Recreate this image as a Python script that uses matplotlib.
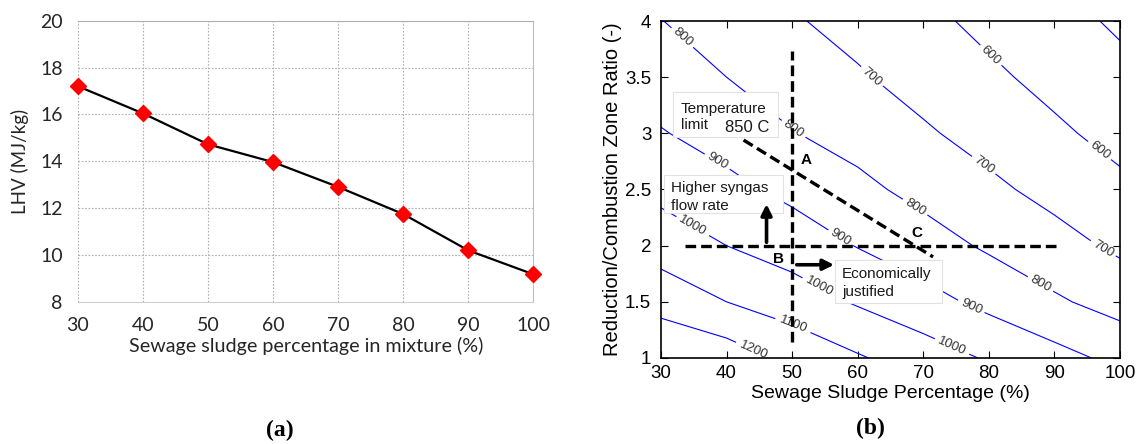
import matplotlib
matplotlib.use("Agg")
import matplotlib.pyplot as plt
from matplotlib.patches import Rectangle
import numpy as np

# (a) LHV of the fuel mixture
sludge_pct = [30, 40, 50, 60, 70, 80, 90, 100]
lhv = [17.20, 16.04, 14.72, 13.96, 12.90, 11.74, 10.19, 9.17]

# (b) temperature field
grid_x = [30, 40, 50, 60, 70, 80, 90, 100]
grid_y = [1.0, 1.5, 2.0, 2.5, 3.0, 3.5, 4.0]
temp_y10 = [1300, 1255, 1174, 1110, 1050, 990, 934, 874]
temp_y15 = [1159, 1100, 1050, 990, 935, 874, 814, 762]
temp_y20 = [1058, 1000, 955, 896, 843, 786, 735, 682]
temp_y25 = [972, 926, 875, 824, 771, 720, 671, 620]
temp_y30 = [906, 861, 804, 764, 712, 666, 616, 571]
temp_y35 = [852, 800, 756, 710, 665, 617, 573, 528]
temp_y40 = [802, 755, 709, 669, 622, 577, 534, 485]
levels = [500, 600, 700, 800, 900, 1000, 1100, 1200]

yticks_b = [1, 1.5, 2, 2.5, 3, 3.5, 4]
ytick_labels_b = ["1", "1.5", "2", "2.5", "3", "3.5", "4"]

# operating-window lines (x, y)
vline_x, vline_y = [50, 50], [1.14, 3.73]
hline_x, hline_y = [33.7, 90.9], [2.0, 2.0]
limit_x, limit_y = [42.6, 71.5], [2.94, 1.90]

SANS = ["Lato", "DejaVu Sans"]
ARIAL = ["Liberation Sans", "DejaVu Sans"]
TXT = "#262626"

fig = plt.figure(figsize=(11.4, 4.44), dpi=100)

# ---- (a)
ax1 = fig.add_axes([0.0684, 0.3205, 0.3995, 0.6329])
ax1.plot(sludge_pct, lhv, color="black", lw=1.6, marker="D", ms=8.5,
         mfc="red", mec="red", zorder=3, clip_on=False)
ax1.set_xlim(30, 100)
ax1.set_ylim(8, 20)
ax1.set_xticks(range(30, 101, 10))
ax1.set_yticks(range(8, 21, 2))
ax1.grid(True, color="#b0b0b0", ls=(0, (1.5, 1.5)), lw=0.8)
ax1.tick_params(length=0, labelsize=14, colors=TXT, pad=11)
for lab in ax1.get_xticklabels() + ax1.get_yticklabels():
    lab.set_family(SANS)
ax1.spines["left"].set_visible(False)
ax1.spines["bottom"].set_color("#d0d0d0")
ax1.spines["top"].set_color("#b0b0b0")
ax1.spines["right"].set_color("#c0c0c0")
ax1.set_xlabel("Sewage sludge percentage in mixture (%)", family=SANS,
               fontsize=14.2, color=TXT, labelpad=2)
ax1.set_ylabel("LHV (MJ/kg)", family=SANS, fontsize=13.5, color=TXT, labelpad=8)

# ---- (b)
ax2 = fig.add_axes([0.5798, 0.1937, 0.4026, 0.759])
T = np.array([temp_y10, temp_y15, temp_y20, temp_y25, temp_y30, temp_y35, temp_y40])
X, Y = np.meshgrid(grid_x, grid_y)
cs = ax2.contour(X, Y, T, levels=levels, colors="#0000ff", linewidths=0.8)
label_pos = [(32.9, 3.83), (50.1, 3.03), (68.5, 2.32), (87.5, 1.62),
             (61.9, 3.49), (78.9, 2.69), (97.0, 1.93),
             (79.9, 3.67), (96.4, 2.81),
             (38.2, 2.71), (57.3, 2.06), (77.1, 1.43),
             (34.5, 2.14), (53.7, 1.59), (74.3, 1.09),
             (49.9, 1.26), (44.0, 1.06)]
cl = ax2.clabel(cs, fmt="%d", fontsize=9.5, inline=True, inline_spacing=2,
                manual=label_pos, colors="#333333")
for t in cl:
    t.set_family(ARIAL)

dash = (0, (3.2, 1.5))
for lx, ly in ((vline_x, vline_y), (hline_x, hline_y), (limit_x, limit_y)):
    ax2.plot(lx, ly, color="black", lw=2.4, ls=dash, zorder=4)

# text boxes
box_kw = dict(facecolor="white", edgecolor="#e2e2e2", lw=0.8, zorder=5)
ax2.add_patch(Rectangle((31.8, 2.97), 16.1, 0.40, **box_kw))
ax2.add_patch(Rectangle((30.4, 2.29), 18.2, 0.34, **box_kw))
ax2.add_patch(Rectangle((56.5, 1.49), 16.3, 0.38, **box_kw))
tkw = dict(family=ARIAL, fontsize=11, color="#1a1a1a", zorder=6, va="center", ha="left")
ax2.text(33.0, 3.22, "Temperature", **tkw)
ax2.text(33.0, 3.07, "limit", **tkw)
ax2.text(39.8, 3.05, "850 C", **{**tkw, "fontsize": 12})
ax2.text(31.6, 2.51, "Higher syngas", **tkw)
ax2.text(31.6, 2.35, "flow rate", **tkw)
ax2.text(57.6, 1.745, "Economically", **tkw)
ax2.text(57.6, 1.59, "justified", **tkw)

bkw = dict(family=ARIAL, fontsize=11, fontweight="bold", color="black",
           zorder=6, ha="center", va="center")
ax2.text(52.1, 2.76, "A", **bkw)
ax2.text(48.0, 1.88, "B", **bkw)
ax2.text(69.0, 2.11, "C", **bkw)

akw = dict(arrowstyle="-|>", lw=2.6, color="black", mutation_scale=16,
           shrinkA=0, shrinkB=0)
ax2.annotate("", xy=(46.1, 2.37), xytext=(46.1, 2.03), arrowprops=akw, zorder=6)
ax2.annotate("", xy=(56.4, 1.83), xytext=(50.7, 1.83), arrowprops=akw, zorder=6)

ax2.set_xlim(30, 100)
ax2.set_ylim(1, 4)
ax2.set_xticks(range(30, 101, 10))
ax2.set_yticks(yticks_b)
ax2.set_yticklabels(ytick_labels_b)
ax2.tick_params(direction="in", top=True, right=True, length=5, width=0.8,
                labelsize=13.5, colors="black")
ax2.tick_params(axis="x", pad=5)
ax2.tick_params(axis="y", pad=7)
for lab in ax2.get_xticklabels() + ax2.get_yticklabels():
    lab.set_family(ARIAL)
for sp in ax2.spines.values():
    sp.set_linewidth(1.2)
ax2.set_xlabel("Sewage Sludge Percentage (%)", family=ARIAL, fontsize=14,
               labelpad=2)
ax2.set_ylabel("Reduction/Combustion Zone Ratio (-)", family=ARIAL,
               fontsize=14.5, labelpad=2)

# panel captions
fig.text(280 / 1140, 1 - 430 / 444, "(a)", family=["Liberation Serif"],
         fontsize=17, fontweight="bold", ha="center", va="center")
fig.text(870 / 1140, 1 - 428 / 444, "(b)", family=["Liberation Serif"],
         fontsize=17, fontweight="bold", ha="center", va="center")

fig.savefig("out.png", dpi=100)
